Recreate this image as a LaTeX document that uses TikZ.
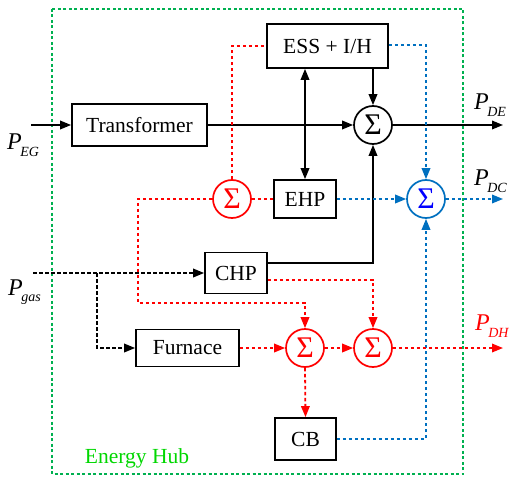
\documentclass[tikz,border=0pt]{standalone}
\usepackage{fontspec}
\setmainfont{Liberation Serif}
\usetikzlibrary{arrows.meta,calc}
\definecolor{hubgreen}{RGB}{0,176,80}
\definecolor{hubtext}{RGB}{0,215,0}
\definecolor{eblue}{RGB}{0,112,192}
\definecolor{sblue}{RGB}{0,0,255}
\definecolor{ered}{RGB}{255,0,0}
\newcommand\Plab[1]{\textit{P}\kern-1.5pt\raisebox{-6.5pt}{\fontsize{14}{14}\selectfont\textit{#1}}}
\tikzset{
  blk/.style={draw=black,line width=1.7pt,fill=white,inner sep=0pt,font=\fontsize{21.5}{24}\selectfont},
  sumnode/.style={circle,draw,line width=1.7pt,minimum size=38pt,inner sep=0pt,font=\fontsize{30}{30}\selectfont,fill=white},
  wire/.style={line width=1.8pt},
  dsh/.style={line width=1.8pt,dash pattern=on 3.5pt off 2.5pt},
  tip/.style={-{Triangle[length=11pt,width=8.5pt]}},
  lab/.style={font=\fontsize{24}{26}\selectfont,inner sep=0pt},
}
\begin{document}
\begin{tikzpicture}[x=1pt,y=-1pt]
\useasboundingbox (0,0) rectangle (510,478);
% energy hub frame
\draw[hubgreen,line width=1.7pt,dash pattern=on 3pt off 2.5pt] (52,9) rectangle (463,474);
\node[hubtext,font=\fontsize{21.5}{24}\selectfont,inner sep=0pt] (hub) at (137,458) {Energy Hub};

% blocks
\node[blk,minimum width=135pt,minimum height=42pt] (tr) at (139.5,125) {Transformer};
\node[blk,minimum width=121pt,minimum height=44pt] (ess) at (327.5,46) {ESS + I/H};
\node[blk,minimum width=62pt,minimum height=38pt] (ehp) at (305,199) {EHP};
\node[blk,minimum width=62pt,minimum height=41pt] (chp) at (236,273) {CHP};
\node[blk,minimum width=103pt,minimum height=37pt] (fur) at (187.5,348) {Furnace};
\node[blk,minimum width=61pt,minimum height=42pt] (cb) at (305.5,439) {CB};

% summing junctions
\node[sumnode,draw=black] (s0) at (373,125) {Σ};
\node[sumnode,draw=eblue,text=sblue] (sb) at (426,199) {Σ};
\node[sumnode,draw=ered,text=ered] (sr1) at (232,199) {Σ};
\node[sumnode,draw=ered,text=ered] (sr2) at (305,348) {Σ};
\node[sumnode,draw=ered,text=ered] (sr3) at (373,348) {Σ};

% free ends
\coordinate (inEG) at (31,125);
\coordinate (inGas) at (33,273);
\coordinate (outDE) at (503,125);
\coordinate (outDC) at (503,199);
\coordinate (outDH) at (503,348);
\coordinate (gasBr) at (97,273);

% labels
\node[lab,anchor=west] (pEG) at (7,145) {\Plab{EG}};
\node[lab,anchor=west] (pGas) at (8,292) {\Plab{gas}};
\node[lab,anchor=west] (pDE) at (474,105) {\Plab{DE}};
\node[lab,anchor=west] (pDC) at (474,181) {\Plab{DC}};
\node[lab,anchor=west,text=ered] (pDH) at (475,326) {\Plab{DH}};

% electricity (black, solid)
\draw[wire,tip] (inEG) -- (tr.west);
\draw[wire,tip] (tr.east) -- (s0.west);
\draw[wire,tip] (s0 |- ess.south) -- (s0.north);
\draw[wire,{Triangle[length=11pt,width=8.5pt]}-{Triangle[length=11pt,width=8.5pt]}] (ehp.north |- ess.south) -- (ehp.north);
\draw[wire,tip] (s0.east) -- (outDE);
\draw[wire,tip] ([yshift=10pt]chp.east) -| (s0.south);

% gas (black, dashed)
\draw[dsh,tip] (inGas) -- (chp.west);
\draw[dsh,tip] (gasBr) |- (fur.west);

% cooling (blue, dashed)
\draw[dsh,eblue,tip] ([yshift=1pt]ess.east) -| (sb.north);
\draw[dsh,eblue,tip] (ehp.east) -- (sb.west);
\draw[dsh,eblue,tip] (sb.east) -- (outDC);
\draw[dsh,eblue,tip] (cb.east) -| (sb.south);

% heat (red, dashed)
\draw[dsh,ered] (sr1.north) |- (ess.west);
\draw[dsh,ered] (sr1.east) -- (ehp.west);
\draw[dsh,ered,tip] (sr1.west) -| (138,303) -| (sr2.north);
\draw[dsh,ered,tip] ([yshift=-7pt]chp.east) -| (sr3.north);
\draw[dsh,ered,tip] (fur.east) -- (sr2.west);
\draw[dsh,ered,tip] (sr2.east) -- (sr3.west);
\draw[dsh,ered,tip] (sr3.east) -- (outDH);
\draw[dsh,ered,tip] (sr2.south) -- (cb.north);
\end{tikzpicture}
\end{document}
